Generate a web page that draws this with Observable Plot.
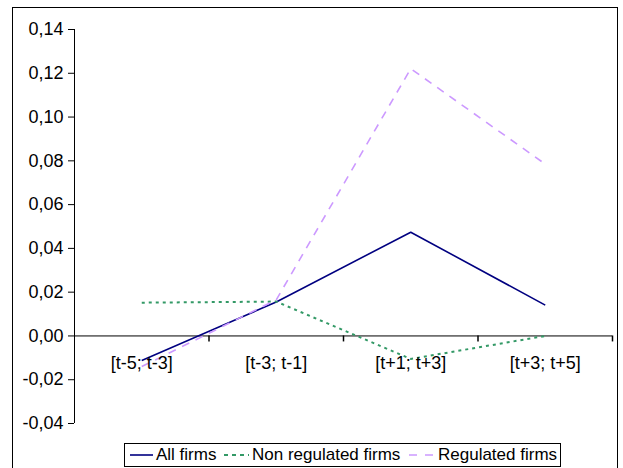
<!DOCTYPE html>
<html>
<head>
<meta charset="utf-8">
<script src="https://cdn.jsdelivr.net/npm/d3@7"></script>
<script src="https://cdn.jsdelivr.net/npm/@observablehq/plot@0.6"></script>
<style>
  html, body { margin: 0; padding: 0; background: #fff; }
  #wrap { position: relative; width: 623px; height: 468px; overflow: hidden; font-family: "Liberation Sans", Arial, sans-serif; }
  #frame { position: absolute; left: 12px; top: 7px; width: 604px; height: 500px; border: 1.5px solid #000; pointer-events: none; }
  #chart { position: absolute; left: 0; top: 0; }
  #legend { position: absolute; left: 124px; top: 443px; width: 435px; height: 22px; border: 1px solid #000; background: #fff; font-size: 17px; color: #000; }
  .item { position: absolute; top: 0; height: 22px; display: flex; align-items: center; white-space: nowrap; }
  .item svg { display: block; margin-right: 3px; }
</style>
</head>
<body>
<div id="wrap">
  <div id="chart"></div>
  <div id="frame"></div>
  <div id="legend"></div>
</div>
<script>
// ---- data ----
const categories = ["[t-5; t-3]", "[t-3; t-1]", "[t+1; t+3]", "[t+3; t+5]"];
const allFirms = [-0.0112, 0.0155, 0.0474, 0.0141];
const nonRegulated = [0.0152, 0.0157, -0.0105, 0.0];
const regulated = [-0.0140, 0.0165, 0.1221, 0.0785];
const seriesNames = ["All firms", "Non regulated firms", "Regulated firms"];
const yTicks = [0.14, 0.12, 0.10, 0.08, 0.06, 0.04, 0.02, 0.00, -0.02, -0.04];
const yTickLabels = ["0,14", "0,12", "0,10", "0,08", "0,06", "0,04", "0,02", "0,00", "-0,02", "-0,04"];

// ---- styles ----
const styles = [
  {color: "#000080", dash: null, width: 1.6},
  {color: "#339966", dash: "3,4", width: 2},
  {color: "#CC99FF", dash: "8,7", width: 1.6}
];

const W = 623, H = 440, mL = 74, mR = 11, mT = 29, mB = 17;
const yDomain = [-0.04, 0.14];
const tickLen = 6 * (yDomain[1] - yDomain[0]) / (H - mT - mB);

const idx = categories.map((_, i) => i);
const boundaries = [-0.5, 0.5, 1.5, 2.5, 3.5];
const seriesValues = [allFirms, nonRegulated, regulated];

const lineMarks = seriesValues.map((vals, s) =>
  Plot.line(idx.map(i => ({i, v: vals[i]})), {
    x: "i", y: "v",
    stroke: styles[s].color,
    strokeWidth: styles[s].width,
    strokeDasharray: styles[s].dash,
    strokeLinejoin: "miter",
    strokeLinecap: "butt"
  })
);

const plot = Plot.plot({
  width: W,
  height: H,
  marginLeft: mL,
  marginRight: mR,
  marginTop: mT,
  marginBottom: mB,
  style: {background: "transparent", fontFamily: "Liberation Sans, Arial, sans-serif", fontSize: "18px", color: "#000"},
  x: {type: "linear", domain: [-0.5, 3.5], axis: null},
  y: {type: "linear", domain: yDomain, axis: null},
  marks: [
    Plot.axisY({
      ticks: yTicks,
      tickFormat: (d) => yTickLabels[yTicks.findIndex(t => Math.abs(t - d) < 1e-9)],
      tickSize: 6,
      tickPadding: 5,
      fontSize: 18,
      stroke: "#000",
      strokeOpacity: 1,
      label: null
    }),
    Plot.ruleX([-0.5], {y1: yDomain[0], y2: yDomain[1], stroke: "#000"}),
    Plot.ruleY([0], {x1: -0.5, x2: 3.5, stroke: "#000"}),
    Plot.ruleX(boundaries.slice(1), {x: (d) => d, y1: 0, y2: -tickLen, stroke: "#000", strokeWidth: 1.5}),
    ...lineMarks,
    Plot.text(idx, {
      x: (i) => i, y: () => 0,
      text: (i) => categories[i],
      dy: 27, fontSize: 18, fill: "#000"
    })
  ]
});
document.getElementById("chart").appendChild(plot);

// ---- legend ----
const legend = document.getElementById("legend");
const itemLefts = [5, 99, 284];
const sampleWidths = [23, 25, 26];
seriesNames.forEach((name, s) => {
  const item = document.createElement("div");
  item.className = "item";
  item.style.left = itemLefts[s] + "px";
  const w = sampleWidths[s];
  const svg = d3.create("svg").attr("width", w).attr("height", 10);
  svg.append("line").attr("x1", 0).attr("x2", w).attr("y1", 5).attr("y2", 5)
    .attr("stroke", styles[s].color)
    .attr("stroke-width", styles[s].width)
    .attr("stroke-dasharray", styles[s].dash === null ? null : (s === 1 ? "4,4" : "8,8"));
  item.appendChild(svg.node());
  const span = document.createElement("span");
  span.textContent = name;
  item.appendChild(span);
  legend.appendChild(item);
});
</script>
</body>
</html>
